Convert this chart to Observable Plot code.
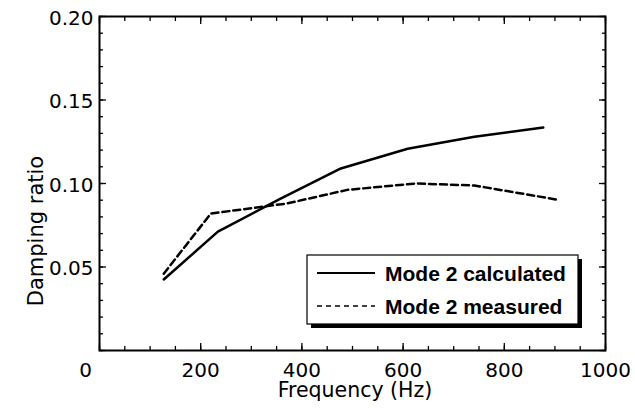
<!DOCTYPE html>
<html><head><meta charset="utf-8">
<script src="https://cdn.jsdelivr.net/npm/d3@7"></script>
<script src="https://cdn.jsdelivr.net/npm/@observablehq/plot@0.6"></script>
<style>body{margin:0;background:#fff} #chart{width:635px;height:408px}</style>
</head><body><div id="chart"></div>
<script>
// Data
const calcFreq = [127, 234, 355, 477, 609, 741, 877];
const calcDamp = [0.0425, 0.0712, 0.0905, 0.109, 0.1208, 0.128, 0.1335];
const measFreq = [127, 220, 370, 490, 625, 741, 903];
const measDamp = [0.046, 0.082, 0.088, 0.0962, 0.1000, 0.0988, 0.0904];

const xMajor = [0, 200, 400, 600, 800, 1000];
const xLabels = [200, 400, 600, 800, 1000];
const xMinor = d3.range(0, 1001, 50);
const yMajor = [0, 0.05, 0.10, 0.15, 0.20];
const yLabels = [0.05, 0.10, 0.15, 0.20];
const yMinor = d3.range(0, 21).map(i => i / 100);
const seriesNames = ["Mode 2 calculated", "Mode 2 measured"];
const xTitle = "Frequency (Hz)";
const yTitle = "Damping ratio";

const calc = calcFreq.map((f, i) => ({f, d: calcDamp[i]}));
const meas = measFreq.map((f, i) => ({f, d: measDamp[i]}));

const FONT = "DejaVu Sans";
const tickOpts = {fill: "none", strokeWidth: 1.3};

const chart = Plot.plot({
  width: 635, height: 408,
  marginLeft: 99, marginRight: 30, marginTop: 16, marginBottom: 58,
  style: {fontFamily: FONT, background: "white", color: "black", overflow: "visible"},
  x: {domain: [0, 1000], label: null},
  y: {domain: [0, 0.2], label: null},
  marks: [
    // inward ticks on all four sides
    Plot.axisX({anchor: "bottom", ticks: xMinor, tickSize: -4, ...tickOpts}),
    Plot.axisX({anchor: "bottom", ticks: xMajor, tickSize: -7, ...tickOpts}),
    Plot.axisX({anchor: "top", ticks: xMinor, tickSize: -4, ...tickOpts}),
    Plot.axisX({anchor: "top", ticks: xMajor, tickSize: -7, ...tickOpts}),
    Plot.axisY({anchor: "left", ticks: yMinor, tickSize: -4, ...tickOpts}),
    Plot.axisY({anchor: "left", ticks: yMajor, tickSize: -7, ...tickOpts}),
    Plot.axisY({anchor: "right", ticks: yMinor, tickSize: -4, ...tickOpts}),
    Plot.axisY({anchor: "right", ticks: yMajor, tickSize: -7, ...tickOpts}),
    // tick labels
    Plot.axisX({anchor: "bottom", ticks: xLabels, tickSize: 0, tickPadding: 12, fontSize: 20, tickFormat: d => String(d)}),
    Plot.axisX({anchor: "bottom", ticks: [0], tickSize: 0, tickPadding: 12, fontSize: 20, dx: -14, tickFormat: d => String(d)}),
    Plot.axisY({anchor: "left", ticks: yLabels, tickSize: 0, tickPadding: 6, fontSize: 20, dy: 2, tickFormat: d3.format(".2f")}),
    Plot.frame({stroke: "black", strokeWidth: 2}),
    Plot.line(calc, {x: "f", y: "d", stroke: "black", strokeWidth: 2.5}),
    Plot.line(meas, {x: "f", y: "d", stroke: "black", strokeWidth: 2.5, strokeDasharray: "7,4"})
  ]
});

const svg = d3.select(chart);

// Axis titles
svg.append("text").attr("x", 355).attr("y", 397).attr("text-anchor", "middle")
  .attr("font-family", FONT).attr("font-size", 20.5).attr("fill", "black").text(xTitle);
svg.append("text").attr("transform", "translate(43,231) rotate(-90)").attr("text-anchor", "middle")
  .attr("font-family", FONT).attr("font-size", 21).attr("fill", "black").text(yTitle);

// Legend box with drop shadow
const lg = svg.append("g").attr("font-family", "Liberation Sans").attr("font-weight", "bold");
const bx = 307, by = 255, bw = 271, bh = 69;
lg.append("rect").attr("x", bx + 4).attr("y", by + 4).attr("width", bw).attr("height", bh).attr("fill", "black");
lg.append("rect").attr("x", bx).attr("y", by).attr("width", bw).attr("height", bh).attr("fill", "white").attr("stroke", "black").attr("stroke-width", 1.2);
const rows = [{y: 273, dash: null, w: 2.2}, {y: 306, dash: "5,4", w: 1.6}];
rows.forEach((r, i) => {
  const ln = lg.append("line").attr("x1", 317).attr("x2", 375).attr("y1", r.y).attr("y2", r.y)
    .attr("stroke", "black").attr("stroke-width", r.w);
  if (r.dash) ln.attr("stroke-dasharray", r.dash);
  lg.append("text").attr("x", 385).attr("y", r.y).attr("dy", "0.36em").attr("font-size", 21)
    .attr("text-anchor", "start").attr("fill", "black").text(seriesNames[i]);
});

document.getElementById("chart").appendChild(chart);
</script>
</body></html>
